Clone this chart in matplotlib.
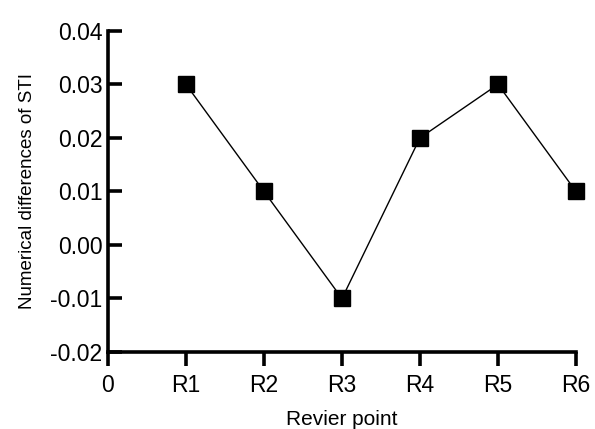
import numpy as np
import matplotlib.pyplot as plt

plt.rcParams['font.family'] = ['Liberation Sans', 'DejaVu Sans']

# data
points = ['R1', 'R2', 'R3', 'R4', 'R5', 'R6']
sti_diff = [0.03, 0.01, -0.01, 0.02, 0.03, 0.01]
x_labels = ['0'] + points

fig = plt.figure(figsize=(5.95, 4.29), dpi=100)
ax = fig.add_axes([0.1815, 0.1795, 0.968 - 0.1815, 0.928 - 0.1795])

x = np.arange(1, len(points) + 1)
ax.plot(x, sti_diff, color='black', lw=1.0, marker='s', markersize=11,
        markerfacecolor='black', clip_on=False, zorder=3)

ax.set_xlim(0, len(points))
ax.set_ylim(-0.02, 0.04)
ax.set_xticks(np.arange(0, len(points) + 1))
ax.set_xticklabels(x_labels)
yt = np.arange(-0.02, 0.041, 0.01)
ax.set_yticks(yt)
ax.set_yticklabels(['%.2f' % v for v in yt])

for s in ['top', 'right']:
    ax.spines[s].set_visible(False)
for s in ['left', 'bottom']:
    ax.spines[s].set_linewidth(2.6)

ax.tick_params(axis='both', width=2.6, labelsize=16.5)
ax.tick_params(axis='y', direction='in', length=10, pad=4)
ax.tick_params(axis='x', direction='out', length=10, pad=6)

ax.set_xlabel('Revier point', fontsize=15, labelpad=9)
ax.set_ylabel('Numerical differences of STI', fontsize=13.5, labelpad=10)

fig.savefig('out.png', dpi=100)
